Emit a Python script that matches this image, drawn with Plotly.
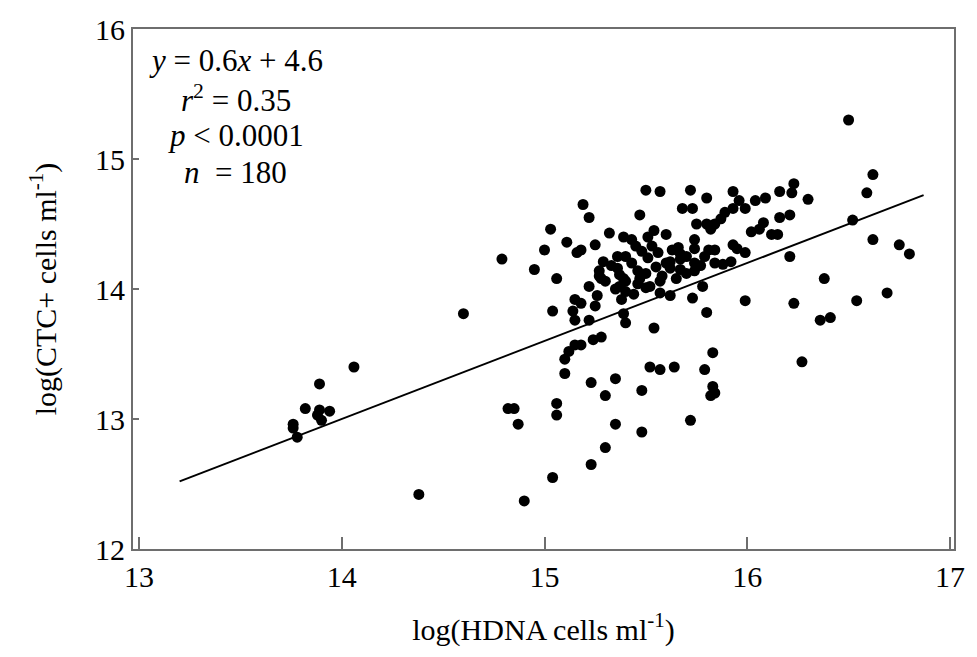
import plotly.graph_objects as go

# log(HDNA cells/ml) vs log(CTC+ cells/ml), one point per sample
hdna = [
    14.06, 13.89, 13.82, 13.89, 13.94, 13.88, 13.90, 13.76, 13.76, 13.78,
    14.38, 14.60, 14.79, 14.82, 14.85, 14.87, 14.90, 15.04, 15.06, 15.06,
    15.23, 15.30, 15.35, 15.48, 15.72, 15.23, 15.35, 15.30, 15.48, 15.52,
    15.57, 15.64, 15.83, 15.79, 15.83, 15.84, 15.82, 16.27, 15.10, 15.10,
    15.12, 15.15, 15.18, 15.24, 15.28, 15.54, 15.40, 15.39, 15.22, 15.15,
    15.14, 15.04, 15.25, 15.15, 15.18, 15.26, 15.22, 15.27, 15.30, 15.38,
    15.57, 15.62, 15.73, 15.78, 15.80, 15.99, 16.23, 16.36, 16.41, 16.54,
    16.69, 16.38, 16.21, 15.99, 15.93, 15.95, 16.62, 16.75, 16.80, 16.52,
    16.59, 16.62, 16.50, 16.30, 16.23, 16.22, 16.16, 16.09, 16.04, 15.96,
    15.99, 16.16, 16.21, 16.08, 16.06, 16.02, 16.12, 16.15, 15.93, 15.80,
    15.93, 15.72, 15.68, 15.73, 15.50, 15.57, 15.47, 15.19, 15.22, 15.03,
    15.11, 15.00, 14.95, 15.06, 15.16, 15.18, 15.25, 15.32, 15.39, 15.43,
    15.45, 15.51, 15.54, 15.60, 15.75, 15.80, 15.82, 15.84, 15.87, 15.89,
    15.66, 15.67, 15.74, 15.74, 15.81, 15.84, 15.29, 15.36, 15.40, 15.27,
    15.28, 15.36, 15.37, 15.39, 15.40, 15.46, 15.47, 15.46, 15.37, 15.40,
    15.44, 15.50, 15.56, 15.51, 15.62, 15.67, 15.70, 15.60, 15.62, 15.67,
    15.74, 15.77, 15.74, 15.84, 15.88, 15.92, 15.57, 15.52, 15.48, 15.33,
    15.43, 15.50, 15.55, 15.58, 15.65, 15.70, 15.35, 15.53, 15.63, 15.79,
]
ctc = [
    13.40, 13.27, 13.08, 13.07, 13.06, 13.03, 12.99, 12.96, 12.93, 12.86,
    12.42, 13.81, 14.23, 13.08, 13.08, 12.96, 12.37, 12.55, 13.12, 13.03,
    12.65, 12.78, 12.96, 12.90, 12.99, 13.28, 13.31, 13.18, 13.22, 13.40,
    13.38, 13.40, 13.51, 13.38, 13.25, 13.20, 13.18, 13.44, 13.35, 13.46,
    13.52, 13.57, 13.57, 13.61, 13.63, 13.70, 13.74, 13.81, 13.76, 13.76,
    13.83, 13.83, 13.87, 13.92, 13.89, 13.95, 14.02, 14.10, 14.06, 13.92,
    13.97, 13.95, 13.93, 14.02, 13.82, 13.91, 13.89, 13.76, 13.78, 13.91,
    13.97, 14.08, 14.25, 14.28, 14.34, 14.31, 14.38, 14.34, 14.27, 14.53,
    14.74, 14.88, 15.30, 14.69, 14.81, 14.74, 14.75, 14.70, 14.68, 14.68,
    14.62, 14.55, 14.57, 14.51, 14.46, 14.44, 14.42, 14.42, 14.75, 14.70,
    14.62, 14.76, 14.62, 14.62, 14.76, 14.75, 14.57, 14.65, 14.55, 14.46,
    14.36, 14.30, 14.15, 14.08, 14.28, 14.30, 14.34, 14.43, 14.40, 14.38,
    14.33, 14.40, 14.45, 14.42, 14.50, 14.50, 14.46, 14.50, 14.54, 14.59,
    14.32, 14.27, 14.38, 14.31, 14.30, 14.30, 14.21, 14.25, 14.25, 14.14,
    14.08, 14.16, 14.11, 14.08, 14.06, 14.14, 14.08, 14.04, 14.02, 13.98,
    13.96, 14.01, 14.28, 14.24, 14.21, 14.23, 14.25, 14.20, 14.16, 14.15,
    14.20, 14.18, 14.14, 14.20, 14.19, 14.21, 14.06, 14.02, 14.29, 14.18,
    14.20, 14.12, 14.17, 14.10, 14.08, 14.12, 14.00, 14.33, 14.30, 14.25,
]

# least-squares fit as reported: y = 0.6x + 4.6
slope = 0.6
intercept = 4.6
fit_x = [13.2, 16.87]
fit_y = [slope * v + intercept for v in fit_x]

x_ticks = [13, 14, 15, 16, 17]
y_ticks = [12, 13, 14, 15, 16]

stats_lines = [
    "<i>y</i> = 0.6<i>x</i> + 4.6",
    "<i>r</i><sup>2</sup> = 0.35",
    "<i>p</i> < 0.0001",
    "<i>n</i>  = 180",
]

serif = "Liberation Serif"

fig = go.Figure()
fig.add_trace(go.Scatter(
    x=fit_x, y=fit_y, mode="lines",
    line=dict(color="black", width=2),
    hoverinfo="skip", showlegend=False,
))
fig.add_trace(go.Scatter(
    x=hdna, y=ctc, mode="markers",
    marker=dict(color="black", size=11, line=dict(width=0)),
    showlegend=False,
))

line_y = [0.939, 0.867, 0.795, 0.724]
for txt, yy in zip(stats_lines, line_y):
    fig.add_annotation(
        text=txt, xref="paper", yref="paper", x=0.125, y=yy,
        xanchor="center", yanchor="middle", showarrow=False,
        font=dict(family=serif, size=31, color="black"),
    )

axis_common = dict(
    showline=True, linecolor="#6e6e6e", linewidth=2, mirror=True,
    showgrid=False, zeroline=False, ticks="inside", tickcolor="#6e6e6e",
    tickwidth=1.5, tickfont=dict(family=serif, size=30, color="black"),
)

fig.update_xaxes(
    range=[12.97, 17.02], tickvals=x_ticks, ticklen=12,
    title=dict(text="log(HDNA cells ml<sup>-1</sup>)",
               font=dict(family=serif, size=30, color="black"), standoff=27),
    **axis_common,
)
fig.update_yaxes(
    range=[12, 16], tickvals=y_ticks, ticklen=6,
    title=dict(text="log(CTC+ cells ml<sup>-1</sup>)",
               font=dict(family=serif, size=30, color="black"), standoff=30),
    **axis_common,
)

fig.update_layout(
    width=977, height=657,
    margin=dict(l=133, r=20, t=25, b=108),
    paper_bgcolor="white", plot_bgcolor="white",
    font=dict(family=serif, color="black"),
)

fig.write_html("out.html")
